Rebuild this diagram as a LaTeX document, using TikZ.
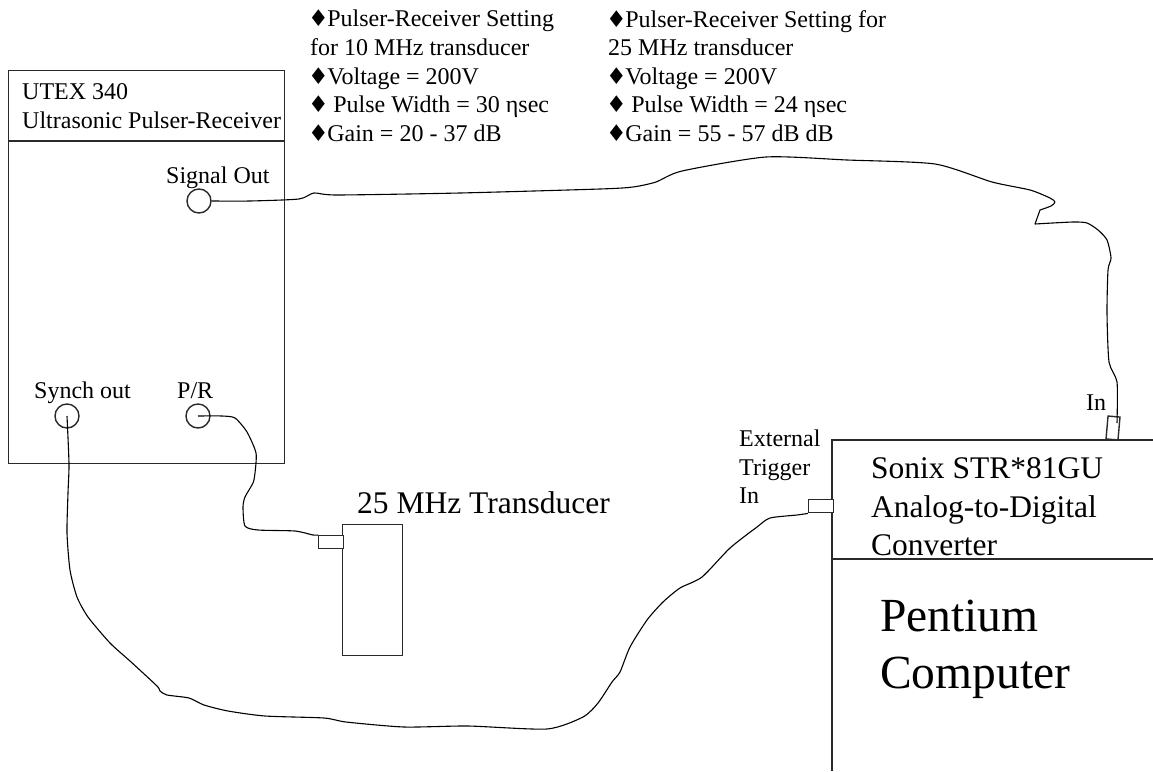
\documentclass[tikz,border=0pt]{standalone}
\usepackage{fontspec}
\setmainfont{Liberation Serif}
\newfontfamily\symfont{DejaVu Sans}
\usetikzlibrary{positioning}
\definecolor{ink}{HTML}{000000}
\definecolor{frame}{HTML}{2A2A2A}
\newcommand{\setbul}{\hspace*{-2pt}{\symfont\fontsize{23}{23}\selectfont ♦}\hspace*{-1.5pt}}
\tikzset{
  frameline/.style={draw=frame, line width=1.4pt},
  wire/.style={draw=ink, line width=1.1pt, line join=round},
  unit/.style={frameline, rectangle, inner sep=0pt, anchor=north west},
  port/.style={frameline, circle, inner sep=0pt, minimum size=24pt},
  plug/.style={frameline, fill=white, rectangle, inner sep=0pt, anchor=north west},
  lbl/.style={text=ink, inner sep=0pt, anchor=base west,
              font=\fontsize{24}{28.5}\selectfont},
  lblbig/.style={lbl, font=\fontsize{31.5}{38.5}\selectfont},
  lblhuge/.style={lbl, font=\fontsize{47.5}{57}\selectfont},
  note/.style={text=ink, inner sep=0pt, anchor=north west, align=left,
               font=\fontsize{24}{28.6}\selectfont},
  cable/.style={smooth, tension=0.4},
}
\begin{document}
\begin{tikzpicture}[x=1pt, y=-1pt]
\useasboundingbox (0,0) rectangle (1153,771);

% ---------------------------------------------------------------- settings
\node[note] (set10) at (310,10) {\setbul Pulser-Receiver Setting\\for 10 MHz transducer\\\setbul Voltage = 200V\\\setbul\ Pulse Width = 30 ηsec\\\setbul Gain = 20 - 37 dB};
\node[note] (set25) at (608,10) {\setbul Pulser-Receiver Setting for\\25 MHz transducer\\\setbul Voltage = 200V\\\setbul\ Pulse Width = 24 ηsec\\\setbul Gain = 55 - 57 dB dB};

% ---------------------------------------------------------------- pulser
\node[unit, minimum width=276pt, minimum height=393pt] (utex) at (8,70) {};
\coordinate (utexdiv) at (8,141);
\draw[frameline] (utexdiv) -- (utexdiv -| utex.east);
\node[lbl] (utexa) at (22,99) {UTEX 340};
\node[lbl] (utexb) at (22,128) {Ultrasonic Pulser-Receiver};

\node[lbl] (lblsig) at (166,183) {Signal Out};
\node[lbl] (lblsyn) at (34,398) {Synch out};
\node[lbl] (lblpr) at (177,398) {P/R};
\node[port] (sigout) at (199,201) {};
\node[port] (synout) at (67,416) {};
\node[port] (prout) at (198,416) {};

% ---------------------------------------------------------------- transducer
\node[unit, minimum width=60pt, minimum height=131pt] (trans) at (342,524) {};
\node[plug, minimum width=25pt, minimum height=13pt] (transplug) at (318,535) {};
\node[lblbig] (lbltrans) at (357,513) {25 MHz Transducer};

% ---------------------------------------------------------------- computer
\coordinate (adcnw) at (832,440);
\coordinate (adcne) at (1153,440);
\coordinate (adcsw) at (832,771);
\coordinate (adcdiv) at (832,559);
\draw[frameline] (adcne) -- (adcnw) -- (adcsw);
\draw[frameline] (adcdiv) -- (adcdiv -| adcne);
\node[lblbig] (lbladca) at (871,478) {Sonix STR*81GU};
\node[lblbig] (lbladcb) at (871,517) {Analog-to-Digital};
\node[lblbig] (lbladcc) at (871,555) {Converter};
\node[lblhuge] (lblpca) at (880,631) {Pentium};
\node[lblhuge] (lblpcb) at (880,688) {Computer};

\node[plug, minimum width=25pt, minimum height=13pt] (trigplug) at (808,499) {};
\node[frameline, rectangle, inner sep=0pt, minimum width=12pt, minimum height=23pt, rotate=-5] (inplug) at (1113,428) {};
\coordinate (inend) at (1117,423);
\node[lbl] (lblin) at (1086,410) {In};
\node[lbl] (lblexa) at (739,446) {External};
\node[lbl] (lblexb) at (739,475) {Trigger};
\node[lbl] (lblexc) at (739,503) {In};

% ---------------------------------------------------------------- cables
\draw[wire] plot[cable] coordinates {(sigout.east) (250,201) (299,199) (314,193)
  (337,195) (460,193) (600,189) (633,187) (656,182) (682,171) (766,157) (847,160)
  (935,164) (992,182) (1030,190) (1050,198) (1055,202) (1051,206) (1040,210)}
  -- (1035,224) -- plot[cable] coordinates {(1035,224) (1073,222) (1087,223) (1098,230)
  (1107,240) (1111,258) (1108,270) (1107,313) (1109,362) (1117,382) (inend)};
\draw[wire] plot[cable] coordinates {(prout.center) (222,416) (235,418) (247,432)
  (256,453) (255,473) (253,483) (245,497) (243,507) (245,526) (258,530)
  (295,531) (313,535) (transplug.north west)};
\draw[wire] plot[cable] coordinates {(synout.center) (69,464) (68,493) (67,533)
  (70,570) (77,597) (88,617) (110,643) (130,661) (157,686) (160,691) (167,695)
  (189,698) (204,705) (228,711) (265,716) (324,718) (346,722) (404,727) (468,726)
  (547,729) (583,717) (598,703) (612,682) (620,672) (630,647) (647,620) (663,602)
  (680,588) (702,577) (730,548) (757,527) (770,518) (797,515) (trigplug.south west)};

\end{tikzpicture}
\end{document}
